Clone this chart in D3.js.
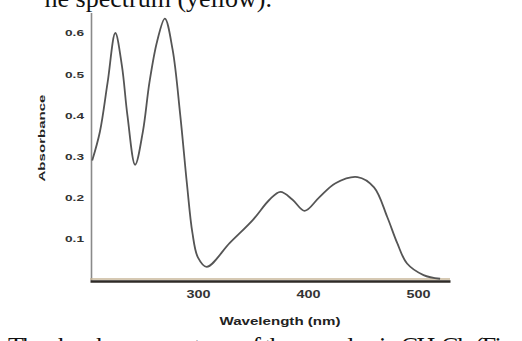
<!DOCTYPE html>
<html>
<head>
<meta charset="utf-8">
<script src="https://cdn.jsdelivr.net/npm/d3@7"></script>
<style>
  body { margin: 0; background: #fff; }
  svg { display: block; }
</style>
</head>
<body>
<figure id="spectrum" style="margin:0"></figure>
<script>
// absorbance spectrum, values
const wavelength = [204, 211, 218, 225, 231, 236, 243, 250, 256, 263, 270, 277, 284, 290, 295, 300, 308,
  329, 350, 365, 375, 386, 397, 410, 425, 445, 460, 472, 481, 490, 505, 520];
const absorbance = [0.29, 0.36, 0.48, 0.60, 0.52, 0.40, 0.28, 0.36, 0.48, 0.58, 0.635, 0.56, 0.40, 0.235, 0.115, 0.055, 0.032,
  0.09, 0.146, 0.195, 0.214, 0.195, 0.168, 0.2, 0.235, 0.25, 0.225, 0.153, 0.09, 0.04, 0.012, 0.003];
const xTicks = [300, 400, 500];
const yTicks = [0.1, 0.2, 0.3, 0.4, 0.5, 0.6];
const xTitle = 'Wavelength (nm)';
const yTitle = 'Absorbance';
const headText = 'he spectrum (yellow).';
const footText = 'The absorbance spectrum of the complex in CH\u2082Cl\u2082 (Fig.';

const width = 522, height = 341;

const svg = d3.select('figure#spectrum')
  .append('svg')
  .attr('width', width)
  .attr('height', height);

const x = d3.scaleLinear().domain([202, 529]).range([90, 450]);
const y = d3.scaleLinear().domain([0, 0.65]).range([280, 12.4]);

// surrounding text from the page (cut by the crop, as in the scan)
svg.append('text')
  .attr('x', 272).attr('y', 7)
  .attr('text-anchor', 'end')
  .attr('font-family', '"Liberation Serif", "Times New Roman", serif')
  .attr('font-size', 26)
  .attr('fill', '#111')
  .text(headText);

svg.append('text')
  .attr('x', 8).attr('y', 355)
  .attr('font-family', '"Liberation Serif", "Times New Roman", serif')
  .attr('font-size', 26)
  .attr('fill', '#111')
  .attr('textLength', 510)
  .text(footText);

// y axis
const yAxis = svg.append('g')
  .attr('transform', 'translate(91,0)')
  .call(d3.axisLeft(y).tickValues(yTicks).tickSize(0).tickPadding(7).tickFormat(d3.format('.1f')));
yAxis.select('.domain').attr('stroke', '#8a8a8a').attr('stroke-width', 1.6);
yAxis.selectAll('text')
  .attr('font-family', '"Liberation Sans", Arial, sans-serif')
  .attr('font-weight', 'bold')
  .attr('font-size', 9)
  .attr('fill', '#333')
  .attr('textLength', 19)
  .attr('lengthAdjust', 'spacingAndGlyphs');

// x axis
const xAxis = svg.append('g')
  .attr('transform', 'translate(0,281)')
  .call(d3.axisBottom(x).tickValues(xTicks).tickSize(0).tickPadding(10).tickFormat(d3.format('d')));
xAxis.select('.domain').attr('stroke', '#2e2a26').attr('stroke-width', 2.4);
xAxis.insert('path', '.domain')
  .attr('d', 'M' + x.range()[0] + ',-2H' + x.range()[1])
  .attr('stroke', '#c9b79a')
  .attr('stroke-width', 1.6);
xAxis.selectAll('.tick text')
  .attr('font-family', '"Liberation Sans", Arial, sans-serif')
  .attr('font-weight', 'bold')
  .attr('font-size', 10)
  .attr('fill', '#333')
  .attr('textLength', 24)
  .attr('lengthAdjust', 'spacingAndGlyphs');

// axis titles
svg.append('text')
  .attr('transform', 'translate(45,138) rotate(-90)')
  .attr('text-anchor', 'middle')
  .attr('font-family', '"Liberation Sans", Arial, sans-serif')
  .attr('font-weight', 'bold')
  .attr('font-size', 9)
  .attr('fill', '#222')
  .attr('textLength', 87)
  .attr('lengthAdjust', 'spacingAndGlyphs')
  .text(yTitle);

svg.append('text')
  .attr('x', 280).attr('y', 325)
  .attr('text-anchor', 'middle')
  .attr('font-family', '"Liberation Sans", Arial, sans-serif')
  .attr('font-weight', 'bold')
  .attr('font-size', 11)
  .attr('fill', '#222')
  .attr('textLength', 121)
  .attr('lengthAdjust', 'spacingAndGlyphs')
  .text(xTitle);

// spectrum line
const points = wavelength.map((w, i) => ({ w: w, a: absorbance[i] }));
const line = d3.line()
  .x(d => x(d.w))
  .y(d => y(d.a))
  .curve(d3.curveCatmullRom.alpha(0.5));

svg.append('path')
  .datum(points)
  .attr('d', line)
  .attr('fill', 'none')
  .attr('stroke', '#555')
  .attr('stroke-width', 1.8);
</script>
</body>
</html>
